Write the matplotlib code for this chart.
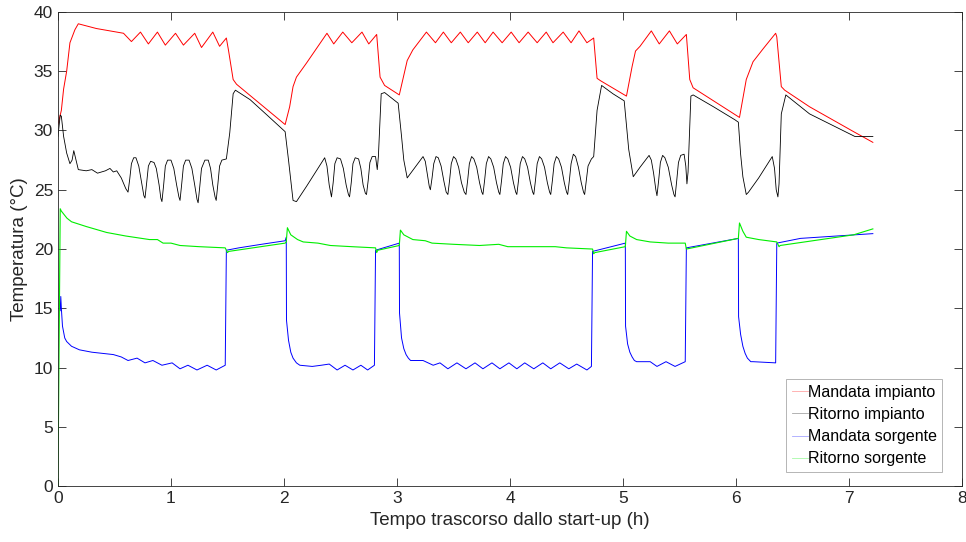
import matplotlib
matplotlib.use("Agg")
import matplotlib.pyplot as plt

# ---- Data (hours, degC) ----
t_mand_imp = [0.0, 0.03, 0.05, 0.077, 0.106, 0.15, 0.18, 0.34, 0.58,
              0.65, 0.73, 0.80, 0.88, 0.95, 1.04, 1.11, 1.21, 1.27, 1.37, 1.43, 1.49,
              1.51, 1.55, 1.58, 2.01,
              2.05, 2.08, 2.11, 2.20, 2.38,
              2.44, 2.52, 2.60, 2.69, 2.75, 2.82,
              2.85, 2.89, 3.02,
              3.09, 3.14, 3.26,
              3.34, 3.41, 3.48, 3.56, 3.63, 3.71, 3.78, 3.85, 3.93, 4.01, 4.08, 4.16,
              4.24, 4.32, 4.38, 4.47, 4.54, 4.61, 4.68, 4.74,
              4.77, 4.80, 5.03,
              5.08, 5.11, 5.15, 5.25, 5.32, 5.41, 5.48, 5.56,
              5.59, 5.62, 6.03,
              6.09, 6.15, 6.24, 6.35, 6.36,
              6.40, 6.43, 6.65, 7.04, 7.21]
T_mand_imp = [30.5, 31.7, 33.5, 35.0, 37.4, 38.5, 39.0, 38.6, 38.2,
              37.5, 38.3, 37.3, 38.3, 37.2, 38.2, 37.2, 38.2, 37.0, 38.3, 37.1, 37.8,
              36.7, 34.3, 33.9, 30.5,
              32.0, 33.7, 34.5, 35.7, 38.2,
              37.3, 38.3, 37.4, 38.3, 37.3, 38.1,
              34.5, 33.8, 33.0,
              35.9, 36.8, 38.3,
              37.4, 38.3, 37.4, 38.3, 37.4, 38.3, 37.4, 38.3, 37.4, 38.3, 37.4, 38.3,
              37.4, 38.3, 37.4, 38.3, 37.4, 38.4, 37.4, 37.8,
              34.4, 34.2, 32.9,
              35.4, 36.7, 37.1, 38.4, 37.3, 38.4, 37.3, 38.1,
              34.3, 33.6, 31.1,
              34.3, 35.8, 36.9, 38.2, 37.9,
              33.7, 33.4, 32.0, 29.9, 29.0]

t_rit_imp = [0.0, 0.02, 0.03, 0.05, 0.077, 0.106, 0.125, 0.14, 0.16, 0.18, 0.25, 0.30,
             0.35, 0.42, 0.46, 0.49, 0.52, 0.56, 0.60, 0.62,
             0.635, 0.65, 0.67, 0.69, 0.715, 0.74, 0.76, 0.77,
             0.785, 0.80, 0.82, 0.85, 0.87, 0.895, 0.91, 0.92,
             0.935, 0.95, 0.97, 1.00, 1.025, 1.05, 1.07, 1.08,
             1.095, 1.11, 1.13, 1.16, 1.185, 1.21, 1.23, 1.24,
             1.255, 1.27, 1.30, 1.33, 1.35, 1.37, 1.39, 1.40,
             1.415, 1.43, 1.45, 1.49, 1.52, 1.55, 1.57, 1.70, 1.85, 2.01,
             2.04, 2.08, 2.11, 2.20, 2.28, 2.36,
             2.38, 2.40, 2.42, 2.435, 2.45, 2.47, 2.50, 2.525, 2.55, 2.57,
             2.58, 2.595, 2.61, 2.63, 2.66, 2.68, 2.70, 2.72,
             2.73, 2.745, 2.76, 2.78, 2.81, 2.825, 2.835,
             2.86, 2.89, 3.01, 3.04, 3.06, 3.09, 3.16, 3.23,
             3.25, 3.27, 3.285, 3.295, 3.31, 3.325, 3.345, 3.365, 3.39, 3.415, 3.435,
             3.45, 3.465, 3.48, 3.50, 3.52, 3.545, 3.57, 3.595,
             3.61, 3.625, 3.64, 3.66, 3.68, 3.705, 3.73, 3.75,
             3.76, 3.775, 3.79, 3.81, 3.83, 3.855, 3.88, 3.90,
             3.91, 3.925, 3.94, 3.96, 3.98, 4.005, 4.03, 4.05,
             4.06, 4.075, 4.09, 4.11, 4.13, 4.155, 4.18, 4.20,
             4.21, 4.225, 4.24, 4.26, 4.28, 4.305, 4.33, 4.35,
             4.36, 4.375, 4.39, 4.41, 4.43, 4.455, 4.48, 4.50,
             4.51, 4.525, 4.54, 4.56, 4.58, 4.605, 4.63, 4.65,
             4.66, 4.675, 4.69, 4.72, 4.74,
             4.77, 4.81, 4.91, 5.01, 5.05, 5.09, 5.15, 5.23,
             5.25, 5.27, 5.29, 5.30, 5.315, 5.33, 5.35, 5.37, 5.40, 5.43, 5.45,
             5.46, 5.475, 5.49, 5.51, 5.54, 5.555, 5.565, 5.575,
             5.60, 5.62, 5.80, 5.99, 6.02,
             6.04, 6.06, 6.09, 6.11, 6.20, 6.28, 6.32, 6.34, 6.355, 6.37, 6.38,
             6.40, 6.44, 6.65, 6.86, 7.05, 7.10, 7.21]
T_rit_imp = [29.5, 31.3, 31.2, 29.5, 28.1, 27.2, 27.5, 28.3, 27.5, 26.7, 26.6, 26.7,
             26.4, 26.6, 26.8, 26.5, 26.6, 26.0, 25.1, 24.8,
             25.9, 27.2, 27.7, 27.7, 27.0, 25.6, 24.5, 24.3,
             25.6, 27.0, 27.4, 27.3, 26.8, 25.4, 24.3, 24.0,
             25.4, 27.0, 27.5, 27.5, 26.8, 25.4, 24.4, 24.1,
             25.5, 27.0, 27.5, 27.5, 26.8, 25.4, 24.2, 23.9,
             25.3, 26.8, 27.5, 27.5, 26.8, 25.4, 24.4, 24.1,
             25.5, 27.0, 27.5, 27.6, 29.8, 33.1, 33.4, 32.6, 31.3, 29.9,
             27.5, 24.1, 24.0, 25.3, 26.5, 27.7,
             27.0, 25.4, 24.4, 25.6, 27.2, 27.7, 27.6, 26.8, 25.4, 24.6,
             24.4, 25.6, 27.2, 27.7, 27.6, 26.8, 25.4, 24.7,
             24.6, 25.8, 27.3, 27.8, 27.8, 26.7, 27.8,
             33.1, 33.2, 32.3, 29.5, 27.5, 26.0, 26.9, 27.8,
             27.4, 26.2, 25.3, 25.0, 26.0, 27.2, 27.8, 27.7, 27.0, 25.7, 24.8,
             24.6, 25.8, 27.2, 27.8, 27.6, 26.9, 25.6, 24.8,
             24.6, 25.8, 27.2, 27.8, 27.6, 26.9, 25.6, 24.8,
             24.6, 25.8, 27.2, 27.8, 27.6, 26.9, 25.6, 24.8,
             24.6, 25.8, 27.2, 27.8, 27.6, 26.9, 25.6, 24.8,
             24.6, 25.8, 27.2, 27.8, 27.6, 26.9, 25.6, 24.8,
             24.6, 25.8, 27.2, 27.8, 27.6, 26.9, 25.6, 24.8,
             24.6, 25.8, 27.2, 27.8, 27.6, 26.9, 25.6, 24.8,
             24.6, 25.8, 27.2, 28.0, 27.8, 26.9, 25.6, 24.8,
             24.6, 25.8, 27.0, 27.6, 27.8,
             31.7, 33.8, 33.1, 32.5, 28.4, 26.1, 26.9, 27.9,
             27.5, 26.4, 25.0, 24.5, 25.8, 27.3, 27.9, 27.7, 26.9, 25.4, 24.6,
             24.4, 25.8, 27.3, 27.9, 28.0, 27.0, 25.5, 26.5,
             32.9, 33.0, 32.0, 30.9, 30.7,
             28.0, 26.1, 24.6, 24.8, 26.0, 27.2, 27.8, 26.8, 25.0, 24.4, 25.5,
             31.4, 33.0, 31.4, 30.4, 29.5, 29.5, 29.5]

t_mand_sorg = [0.02, 0.025, 0.03, 0.04, 0.06, 0.077, 0.12, 0.19, 0.30, 0.49, 0.56,
               0.62, 0.70, 0.77, 0.84, 0.92, 1.01, 1.08, 1.15, 1.23, 1.32, 1.40, 1.48,
               1.49, 1.60, 1.80, 2.01, 2.02,
               2.022, 2.04, 2.06, 2.08, 2.11, 2.14, 2.25, 2.33, 2.40, 2.47, 2.54, 2.61,
               2.68, 2.74, 2.80,
               2.81, 3.02,
               3.022, 3.04, 3.06, 3.08, 3.10, 3.12, 3.23, 3.32, 3.38, 3.45, 3.53, 3.61,
               3.69, 3.76, 3.84, 3.91, 3.99, 4.06, 4.13, 4.21, 4.29, 4.36, 4.44, 4.52,
               4.59, 4.68, 4.72,
               4.73, 5.02,
               5.022, 5.04, 5.06, 5.08, 5.10, 5.12, 5.24, 5.30, 5.38, 5.46, 5.55,
               5.56, 6.02,
               6.022, 6.04, 6.06, 6.08, 6.10, 6.13, 6.15, 6.35,
               6.36, 6.57, 7.21]
T_mand_sorg = [14.8, 16.0, 15.0, 13.5, 12.5, 12.2, 11.8, 11.5, 11.3, 11.1, 10.9,
               10.6, 10.8, 10.4, 10.6, 10.2, 10.4, 9.9, 10.2, 9.8, 10.2, 9.8, 10.2,
               19.9, 20.1, 20.4, 20.7, 21.0,
               14.0, 12.3, 11.3, 10.8, 10.4, 10.2, 10.1, 10.2, 10.3, 9.8, 10.2, 9.8,
               10.2, 9.8, 10.2,
               19.9, 20.5,
               14.6, 12.5, 11.6, 11.1, 10.8, 10.6, 10.6, 10.2, 10.4, 9.9, 10.4, 9.9,
               10.4, 9.9, 10.4, 9.9, 10.4, 9.9, 10.4, 9.9, 10.4, 9.9, 10.4, 9.9,
               10.3, 9.8, 10.1,
               19.8, 20.5,
               13.5, 12.0, 11.3, 10.9, 10.6, 10.5, 10.5, 10.1, 10.5, 10.1, 10.5,
               20.1, 20.9,
               14.3, 12.8, 11.8, 11.2, 10.8, 10.5, 10.5, 10.4,
               20.5, 20.9, 21.3]

t_rit_sorg = [0.0, 0.02, 0.03, 0.08, 0.12, 0.25, 0.43, 0.60, 0.81, 0.88, 0.93, 1.00,
              1.08, 1.25, 1.48, 1.50, 1.51, 2.01, 2.02, 2.03, 2.06, 2.12, 2.17, 2.30,
              2.41, 2.60, 2.81, 2.82, 2.83, 3.02, 3.03, 3.06, 3.14, 3.25, 3.31, 3.50,
              3.73, 3.90, 3.98, 4.20, 4.40, 4.50, 4.73, 4.74, 4.75, 5.02, 5.03, 5.06,
              5.12, 5.24, 5.40, 5.55, 5.56, 6.02, 6.03, 6.06, 6.09, 6.20, 6.36, 6.38,
              6.39, 7.04, 7.21]
T_rit_sorg = [0.0, 23.4, 23.2, 22.6, 22.3, 21.9, 21.4, 21.1, 20.8, 20.8, 20.5, 20.5,
              20.3, 20.2, 20.1, 19.7, 19.8, 20.5, 20.6, 21.8, 21.2, 20.8, 20.6, 20.5,
              20.3, 20.2, 20.1, 19.7, 19.9, 20.3, 21.6, 21.2, 20.8, 20.7, 20.5, 20.4,
              20.3, 20.4, 20.2, 20.2, 20.2, 20.1, 20.0, 19.6, 19.7, 20.2, 21.5, 21.1,
              20.8, 20.6, 20.5, 20.5, 20.0, 20.9, 22.2, 21.5, 21.0, 20.8, 20.6, 20.2,
              20.3, 21.2, 21.7]

labels = ['Mandata impianto', 'Ritorno impianto', 'Mandata sorgente', 'Ritorno sorgente']
x_ticks = [0, 1, 2, 3, 4, 5, 6, 7, 8]
y_ticks = [0, 5, 10, 15, 20, 25, 30, 35, 40]

# ---- Plot ----
plt.rcParams['font.family'] = ['Liberation Sans', 'DejaVu Sans']
axis_col = '#262626'

fig = plt.figure(figsize=(9.66, 5.42), dpi=100)
ax = fig.add_axes([0.060, 0.103, 0.936, 0.875])

ax.plot(t_mand_imp, T_mand_imp, color='#ff0000', lw=0.7, label=labels[0])
ax.plot(t_rit_imp, T_rit_imp, color='#000000', lw=0.6, label=labels[1])
ax.plot(t_mand_sorg, T_mand_sorg, color='#0000ff', lw=0.7, label=labels[2])
ax.plot(t_rit_sorg, T_rit_sorg, color='#00ee00', lw=0.8, label=labels[3])

ax.set_xlim(0, 8)
ax.set_ylim(0, 40)
ax.set_xticks(x_ticks)
ax.set_yticks(y_ticks)
ax.tick_params(direction='in', top=True, right=True, length=6, width=0.6,
               colors=axis_col, labelsize=12.5)
for s in ax.spines.values():
    s.set_color(axis_col)
    s.set_linewidth(0.6)

ax.set_xlabel('Tempo trascorso dallo start-up (h)', fontsize=13.5, color=axis_col)
ax.set_ylabel('Temperatura (°C)', fontsize=13.5, color=axis_col)

leg = ax.legend(loc='lower right', bbox_to_anchor=(0.978, 0.030), fontsize=11.5,
                frameon=True, fancybox=False, edgecolor='#aaaaaa', framealpha=1,
                handlelength=1.0, handletextpad=0.0, labelspacing=0.45,
                borderpad=0.35, borderaxespad=0)
leg.get_frame().set_linewidth(0.6)
for h in leg.get_lines():
    h.set_alpha(0.35)
    h.set_linewidth(0.6)

fig.savefig('out.png', dpi=100)
